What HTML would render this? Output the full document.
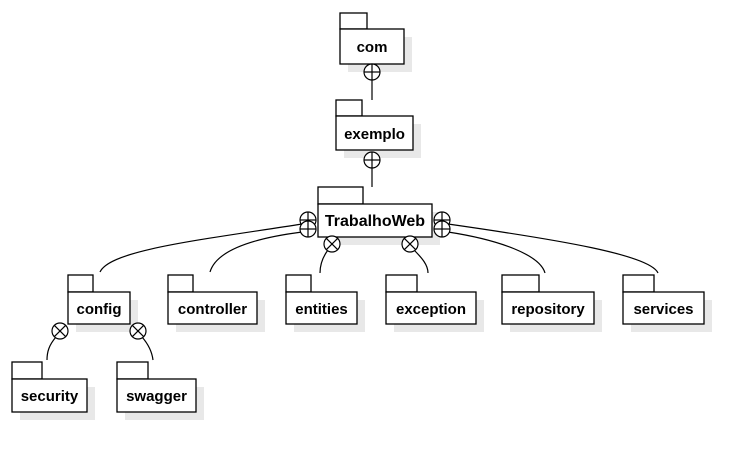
<!DOCTYPE html>
<html><head><meta charset="utf-8"><style>
html,body{margin:0;padding:0;background:#fff;}
svg{display:block;}
text{font-family:"Liberation Sans",Arial,sans-serif;font-weight:bold;font-size:15px;fill:#000;}
</style></head><body>
<svg width="751" height="462" xmlns="http://www.w3.org/2000/svg">
<defs>
<g id="xc"><circle r="8" fill="#fff" stroke="#000" stroke-width="1.2"/><line x1="-5.6" y1="-5.6" x2="5.6" y2="5.6" stroke="#000" stroke-width="1.2"/><line x1="-5.6" y1="5.6" x2="5.6" y2="-5.6" stroke="#000" stroke-width="1.2"/></g>
<g id="pc"><circle r="8" fill="#fff" stroke="#000" stroke-width="1.2"/><line x1="-8" y1="0" x2="8" y2="0" stroke="#000" stroke-width="1.2"/><line x1="0" y1="-8" x2="0" y2="8" stroke="#000" stroke-width="1.2"/></g>
</defs>
<g fill="#e8e8e8">
<rect x="348" y="37" width="64" height="35"/><rect x="344" y="124" width="77" height="34"/><rect x="326" y="212" width="114" height="33"/>
<rect x="76" y="300" width="62" height="32"/><rect x="176" y="300" width="89" height="32"/><rect x="294" y="300" width="71" height="32"/><rect x="394" y="300" width="90" height="32"/><rect x="510" y="300" width="92" height="32"/><rect x="631" y="300" width="81" height="32"/>
<rect x="20" y="387" width="75" height="33"/><rect x="125" y="387" width="79" height="33"/>
</g>
<g fill="none" stroke="#000" stroke-width="1.2">
<line x1="372" y1="80" x2="372" y2="100"/>
<line x1="372" y1="168" x2="372" y2="187"/>
<path d="M302,224 C200,240 110,250 100,272"/>
<path d="M302,232 C240,240 215,255 210,272"/>
<path d="M328,250 C322,258 320,265 320,273"/>
<path d="M414,250 C422,258 428,265 428,273"/>
<path d="M448,232 C500,240 540,255 545,273"/>
<path d="M448,224 C560,240 650,255 658,273"/>
<path d="M56,337 C49,345 47,352 47,360"/>
<path d="M142,337 C149,345 152,352 153,360"/>
</g>
<g fill="#fff" stroke="#000" stroke-width="1.3">
<rect x="340" y="13" width="27" height="16"/><rect x="340" y="29" width="64" height="35"/>
<rect x="336" y="100" width="26" height="16"/><rect x="336" y="116" width="77" height="34"/>
<rect x="318" y="187" width="45" height="17"/><rect x="318" y="204" width="114" height="33"/>
<rect x="68" y="275" width="25" height="17"/><rect x="68" y="292" width="62" height="32"/>
<rect x="168" y="275" width="25" height="17"/><rect x="168" y="292" width="89" height="32"/>
<rect x="286" y="275" width="25" height="17"/><rect x="286" y="292" width="71" height="32"/>
<rect x="386" y="275" width="31" height="17"/><rect x="386" y="292" width="90" height="32"/>
<rect x="502" y="275" width="37" height="17"/><rect x="502" y="292" width="92" height="32"/>
<rect x="623" y="275" width="31" height="17"/><rect x="623" y="292" width="81" height="32"/>
<rect x="12" y="362" width="30" height="17"/><rect x="12" y="379" width="75" height="33"/>
<rect x="117" y="362" width="31" height="17"/><rect x="117" y="379" width="79" height="33"/>
</g>
<use href="#pc" x="372" y="72"/>
<use href="#pc" x="372" y="160"/>
<use href="#pc" x="308" y="220"/><use href="#pc" x="308" y="229"/>
<use href="#pc" x="442" y="220"/><use href="#pc" x="442" y="229"/>
<use href="#xc" x="332" y="244"/><use href="#xc" x="410" y="244"/>
<use href="#xc" x="60" y="331"/><use href="#xc" x="138" y="331"/>
<g text-anchor="middle">
<text x="372" y="52">com</text>
<text x="374.5" y="139">exemplo</text>
<text x="375" y="226" style="font-size:16px">TrabalhoWeb</text>
<text x="99" y="314">config</text>
<text x="212.5" y="314">controller</text>
<text x="321.5" y="314">entities</text>
<text x="431" y="314">exception</text>
<text x="548" y="314">repository</text>
<text x="663.5" y="314">services</text>
<text x="49.5" y="401">security</text>
<text x="156.5" y="401">swagger</text>
</g>
</svg>
</body></html>
